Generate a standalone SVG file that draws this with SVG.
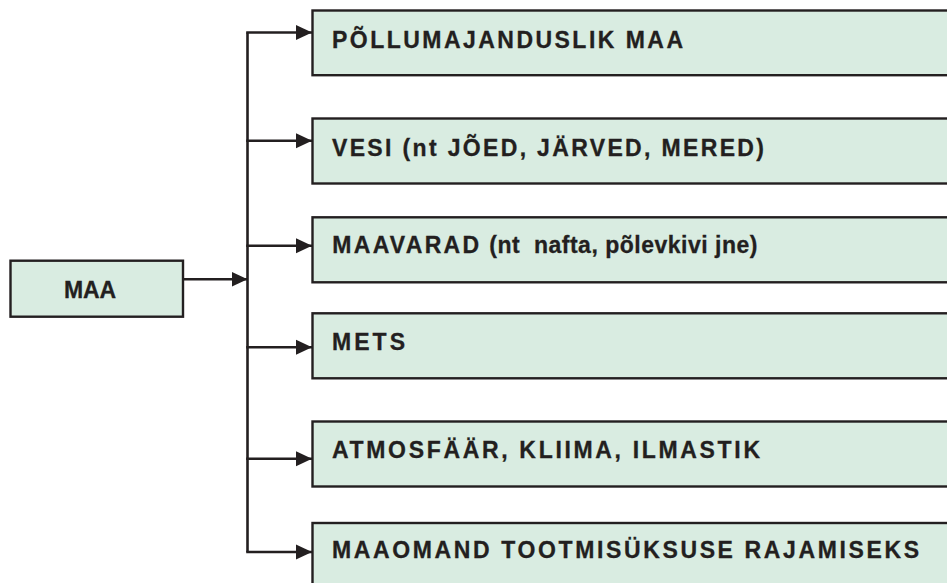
<svg xmlns="http://www.w3.org/2000/svg" width="947" height="583" viewBox="0 0 947 583">
  <style>
    .box { fill: #d9ece1; stroke: #231f20; stroke-width: 2.4; }
    .lbl { font-family: "Liberation Sans", Arial, Helvetica, sans-serif; font-weight: bold; font-size: 23px; fill: #231f20; stroke: #231f20; stroke-width: 0.3; }
    .wire { fill: none; stroke: #231f20; stroke-width: 2.6; }
  </style>
  <defs>
    <marker id="arrow" markerUnits="userSpaceOnUse" markerWidth="16" markerHeight="16" refX="16" refY="8" orient="auto">
      <path d="M0,0.5 L16,8 L0,15.5 z" fill="#231f20"/>
    </marker>
  </defs>

  <rect width="947" height="583" fill="#ffffff"/>

  <!-- connectors -->
  <g id="connectors">
    <line class="wire" x1="184" y1="279.3" x2="247.5" y2="279.3" marker-end="url(#arrow)"/>
    <line class="wire" x1="247.5" y1="32.5" x2="247.5" y2="552"/>
    <line class="wire" x1="246.2" y1="32.5" x2="312" y2="32.5" marker-end="url(#arrow)"/>
    <line class="wire" x1="246.2" y1="140.7" x2="312" y2="140.7" marker-end="url(#arrow)"/>
    <line class="wire" x1="246.2" y1="245.7" x2="312" y2="245.7" marker-end="url(#arrow)"/>
    <line class="wire" x1="246.2" y1="347.3" x2="312" y2="347.3" marker-end="url(#arrow)"/>
    <line class="wire" x1="246.2" y1="458.7" x2="312" y2="458.7" marker-end="url(#arrow)"/>
    <line class="wire" x1="246.2" y1="552" x2="312" y2="552" marker-end="url(#arrow)"/>
  </g>

  <!-- source node -->
  <g id="maa">
    <rect class="box" x="10.5" y="260.7" width="172.5" height="56"/>
    <text class="lbl" x="64" y="297.5" textLength="52" lengthAdjust="spacing">MAA</text>
  </g>

  <!-- target nodes -->
  <g id="pollumajanduslik">
    <rect class="box" x="312.5" y="10.5" width="660" height="64.7"/>
    <text class="lbl" x="332" y="48" textLength="351" lengthAdjust="spacing">PÕLLUMAJANDUSLIK MAA</text>
  </g>

  <g id="vesi">
    <rect class="box" x="312.5" y="118.5" width="660" height="65"/>
    <text class="lbl" x="332" y="155.5" textLength="432" lengthAdjust="spacing">VESI (nt JÕED, JÄRVED, MERED)</text>
  </g>

  <g id="maavarad">
    <rect class="box" x="312.5" y="217.3" width="660" height="65"/>
    <text class="lbl" y="253.3" xml:space="preserve"><tspan x="332.3" letter-spacing="2.3">MAAVARAD</tspan><tspan x="489.3" letter-spacing="0.5">(nt  nafta, põlevkivi jne)</tspan></text>
  </g>

  <g id="mets">
    <rect class="box" x="312.5" y="313.3" width="660" height="65"/>
    <text class="lbl" x="332" y="350" textLength="73" lengthAdjust="spacing">METS</text>
  </g>

  <g id="atmosfaar">
    <rect class="box" x="312.5" y="421.5" width="660" height="65"/>
    <text class="lbl" x="332" y="457.8" textLength="428" lengthAdjust="spacing">ATMOSFÄÄR, KLIIMA, ILMASTIK</text>
  </g>

  <g id="maaomand">
    <rect class="box" x="312.5" y="523" width="660" height="70"/>
    <text class="lbl" x="332" y="558.3" textLength="587" lengthAdjust="spacing">MAAOMAND TOOTMISÜKSUSE RAJAMISEKS</text>
  </g>
</svg>
